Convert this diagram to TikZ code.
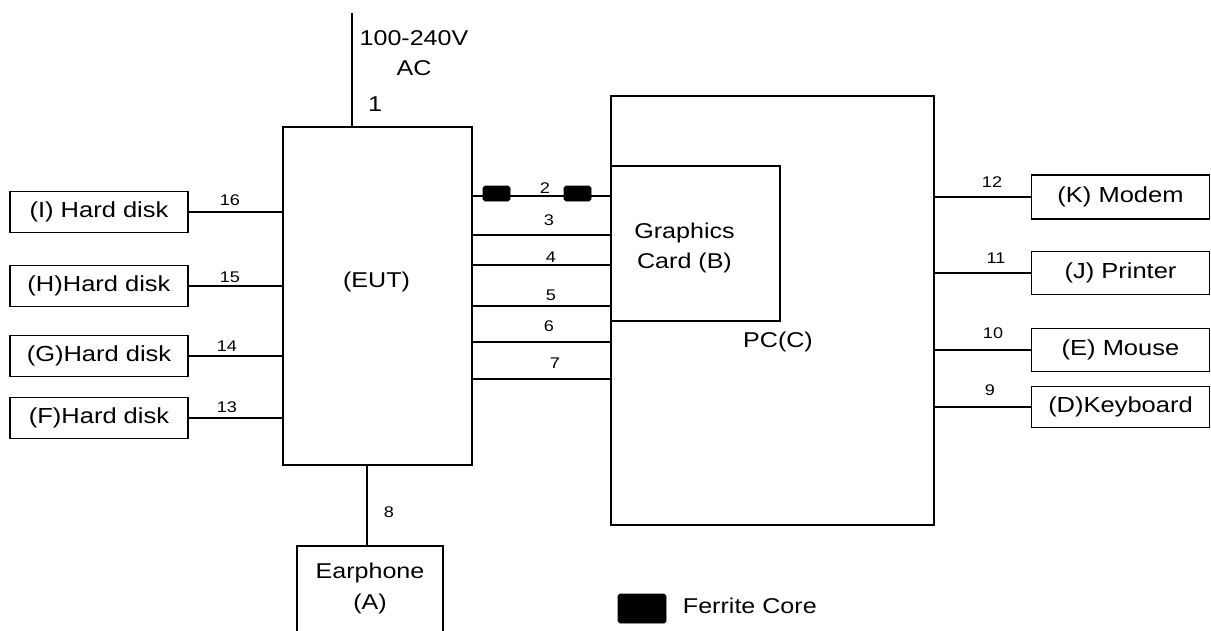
\documentclass[tikz,border=0pt]{standalone}
\usepackage{fontspec}
\setmainfont{Liberation Sans}[FakeStretch=1.17]
\begin{document}
\begin{tikzpicture}[x=0.02cm,y=-0.02cm,
  line width=1.1pt,
  box/.style={draw,rectangle,inner sep=0pt,align=center,font=\fontsize{12.4}{17.5}\selectfont},
  sidebox/.style={box,minimum width=3.56cm,minimum height=0.82cm},
  txt/.style={inner sep=0pt,align=center,font=\fontsize{12.2}{17.5}\selectfont},
  num/.style={inner sep=0pt,font=\fontsize{8.8}{10}\selectfont},
  ferrite/.style={fill=black,draw=black,line width=0.4pt,rounded corners=1pt,minimum width=0.54cm,minimum height=0.3cm,inner sep=0pt},
  wire/.style={line width=1.1pt}]
\useasboundingbox (0,0) rectangle (1211,630);
% main boxes
\node[box,minimum width=3.78cm,minimum height=6.76cm] (eut) at (377.5,296) {};
\node[txt] (eutlbl) at (376.5,282) {(EUT)};
\node[box,minimum width=6.46cm,minimum height=8.58cm] (pc) at (772.5,310.5) {};
\node[box,minimum width=3.38cm,minimum height=3.1cm] (gc) at (695.5,243.5) {};
\node[txt] (gclbl) at (684.5,248) {Graphics\\Card (B)};
\node[txt] (pclbl) at (778,342) {PC(C)};
% power
\coordinate (ac) at (352,13);
\draw[wire] (ac) -- (ac |- eut.north);
\node[txt] (aclbl) at (414,53) {100-240V\\AC};
\node[txt] (one) at (375,104) {1};
% left disks
\node[sidebox] (dI) at (99,212) {(I) Hard disk};
\node[sidebox] (dH) at (99,286) {(H)Hard disk};
\node[sidebox] (dG) at (99,356) {(G)Hard disk};
\node[sidebox] (dF) at (99,418) {(F)Hard disk};
\draw[wire] (dI.east) -- (dI.east -| eut.west);
\draw[wire] (dH.east) -- (dH.east -| eut.west);
\draw[wire] (dG.east) -- (dG.east -| eut.west);
\draw[wire] (dF.east) -- (dF.east -| eut.west);
\node[num] (n16) at (230,200) {16};
\node[num] (n15) at (230,277) {15};
\node[num] (n14) at (227,346) {14};
\node[num] (n13) at (227,407) {13};
% right peripherals
\node[sidebox,minimum height=0.88cm] (mK) at (1120.5,197) {(K) Modem};
\node[sidebox,minimum height=0.86cm] (mJ) at (1120.5,273) {(J) Printer};
\node[sidebox,minimum height=0.86cm] (mE) at (1120.5,350) {(E) Mouse};
\node[sidebox] (mD) at (1120.5,407) {(D)Keyboard};
\draw[wire] (mK.west) -- (mK.west -| pc.east);
\draw[wire] (mJ.west) -- (mJ.west -| pc.east);
\draw[wire] (mE.west) -- (mE.west -| pc.east);
\draw[wire] (mD.west) -- (mD.west -| pc.east);
\node[num] (n12) at (992,182) {12};
\node[num] (n11) at (996,258) {11};
\node[num] (n10) at (993,333) {10};
\node[num] (n9) at (990,390) {9};
% EUT to PC cables
\draw[wire] (eut.east |- 0,196) -- (pc.west |- 0,196);
\draw[wire] (eut.east |- 0,235) -- (pc.west |- 0,235);
\draw[wire] (eut.east |- 0,265) -- (pc.west |- 0,265);
\draw[wire] (eut.east |- 0,306) -- (pc.west |- 0,306);
\draw[wire] (eut.east |- 0,342) -- (pc.west |- 0,342);
\draw[wire] (eut.east |- 0,379) -- (pc.west |- 0,379);
\node[ferrite] (fc1) at (496.5,193.5) {};
\node[ferrite] (fc2) at (577.5,193.5) {};
\node[num] (n2) at (545,188) {2};
\node[num] (n3) at (549,220) {3};
\node[num] (n4) at (551,257) {4};
\node[num] (n5) at (551,295) {5};
\node[num] (n6) at (549,326) {6};
\node[num] (n7) at (555,363) {7};
% earphone (box runs off the bottom edge)
\coordinate (eNW) at (297,546);
\coordinate (eNE) at (443,546);
\coordinate (eN) at (367,546);
\draw[wire] (eNW |- 0,631) -- (eNW) -- (eNE) -- (eNE |- 0,631);
\node[txt] (earlbl) at (370,588.5) {Earphone\\(A)};
\draw[wire] (eN) -- (eN |- eut.south);
\node[num] (n8) at (389,512) {8};
% legend
\node[ferrite,minimum width=0.96cm,minimum height=0.58cm] (leg) at (642,608.5) {};
\node[txt,anchor=west] (leglbl) at (682,606) {Ferrite Core};
\end{tikzpicture}
\end{document}
